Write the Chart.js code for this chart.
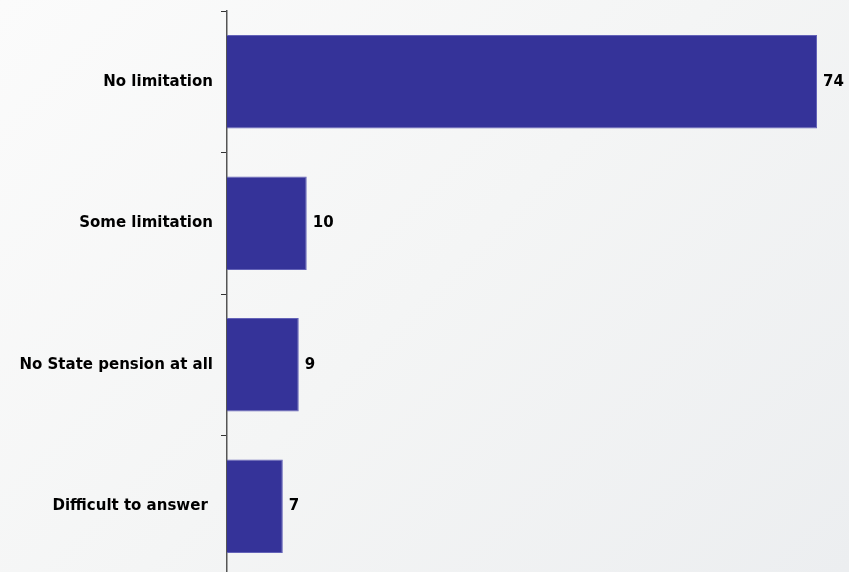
<!DOCTYPE html>
<html>
<head>
<meta charset="utf-8">
<script src="https://cdn.jsdelivr.net/npm/chart.js@4.4.0/dist/chart.umd.min.js"></script>
<style>
  html, body { margin: 0; padding: 0; overflow: hidden; }
  body { width: 849px; height: 572px; background: linear-gradient(135deg, #fbfbfb 0%, #f4f5f5 50%, #eceef0 100%); }
  #wrap { width: 849px; height: 577px; }
</style>
</head>
<body>
<div id="wrap"><canvas id="pensionChart" width="849" height="577"></canvas></div>
<script>
const categories = ['No limitation', 'Some limitation', 'No State pension at all', 'Difficult to answer '];
const shares = [74, 10, 9, 7];

// value at the end of each bar
const barValueLabels = {
    id: 'barValueLabels',
    afterDatasetsDraw(chart) {
        const ctx = chart.ctx;
        const meta = chart.getDatasetMeta(0);
        ctx.save();
        ctx.font = 'bold 15px "DejaVu Sans", Verdana, sans-serif';
        ctx.fillStyle = '#000';
        ctx.textAlign = 'left';
        ctx.textBaseline = 'middle';
        meta.data.forEach((bar, i) => {
            ctx.fillText(String(shares[i]), bar.x + 6, bar.y);
        });
        ctx.restore();
    }
};

const barData = {
    labels: categories,
    datasets: [{
    label: 'Share',
    data: shares,
    backgroundColor: '#353399',
    borderColor: '#6463b8',
    borderWidth: 1,
    barPercentage: 0.66,
    categoryPercentage: 1
    }]
};

const barConfig = {
    type: 'bar',
    data: barData,
    options: {
    indexAxis: 'y',
    responsive: false,
    animation: false,
    layout: { padding: { top: 11, right: 32, bottom: 0, left: 0 } },
    plugins: {
        legend: { display: false },
        tooltip: { enabled: false }
    },
    scales: {
        x: {
        display: false,
        min: 0,
        max: 74
        },
        y: {
        afterFit(scale) {
            scale.width = 227;
            scale.paddingTop = 0;
            scale.paddingBottom = 0;
        },
        border: { display: true, color: '#555', width: 1.5 },
        grid: {
            offset: true,
            drawOnChartArea: false,
            drawTicks: true,
            tickLength: 6,
            color: '#333'
        },
        ticks: {
            color: '#000',
            padding: 8,
            font: { family: '"DejaVu Sans", Verdana, sans-serif', weight: 'bold', size: 15 }
        }
        }
    }
    },
    plugins: [barValueLabels]
};

new Chart(
    document.getElementById('pensionChart').getContext('2d'),
    barConfig
);
</script>
</body>
</html>
